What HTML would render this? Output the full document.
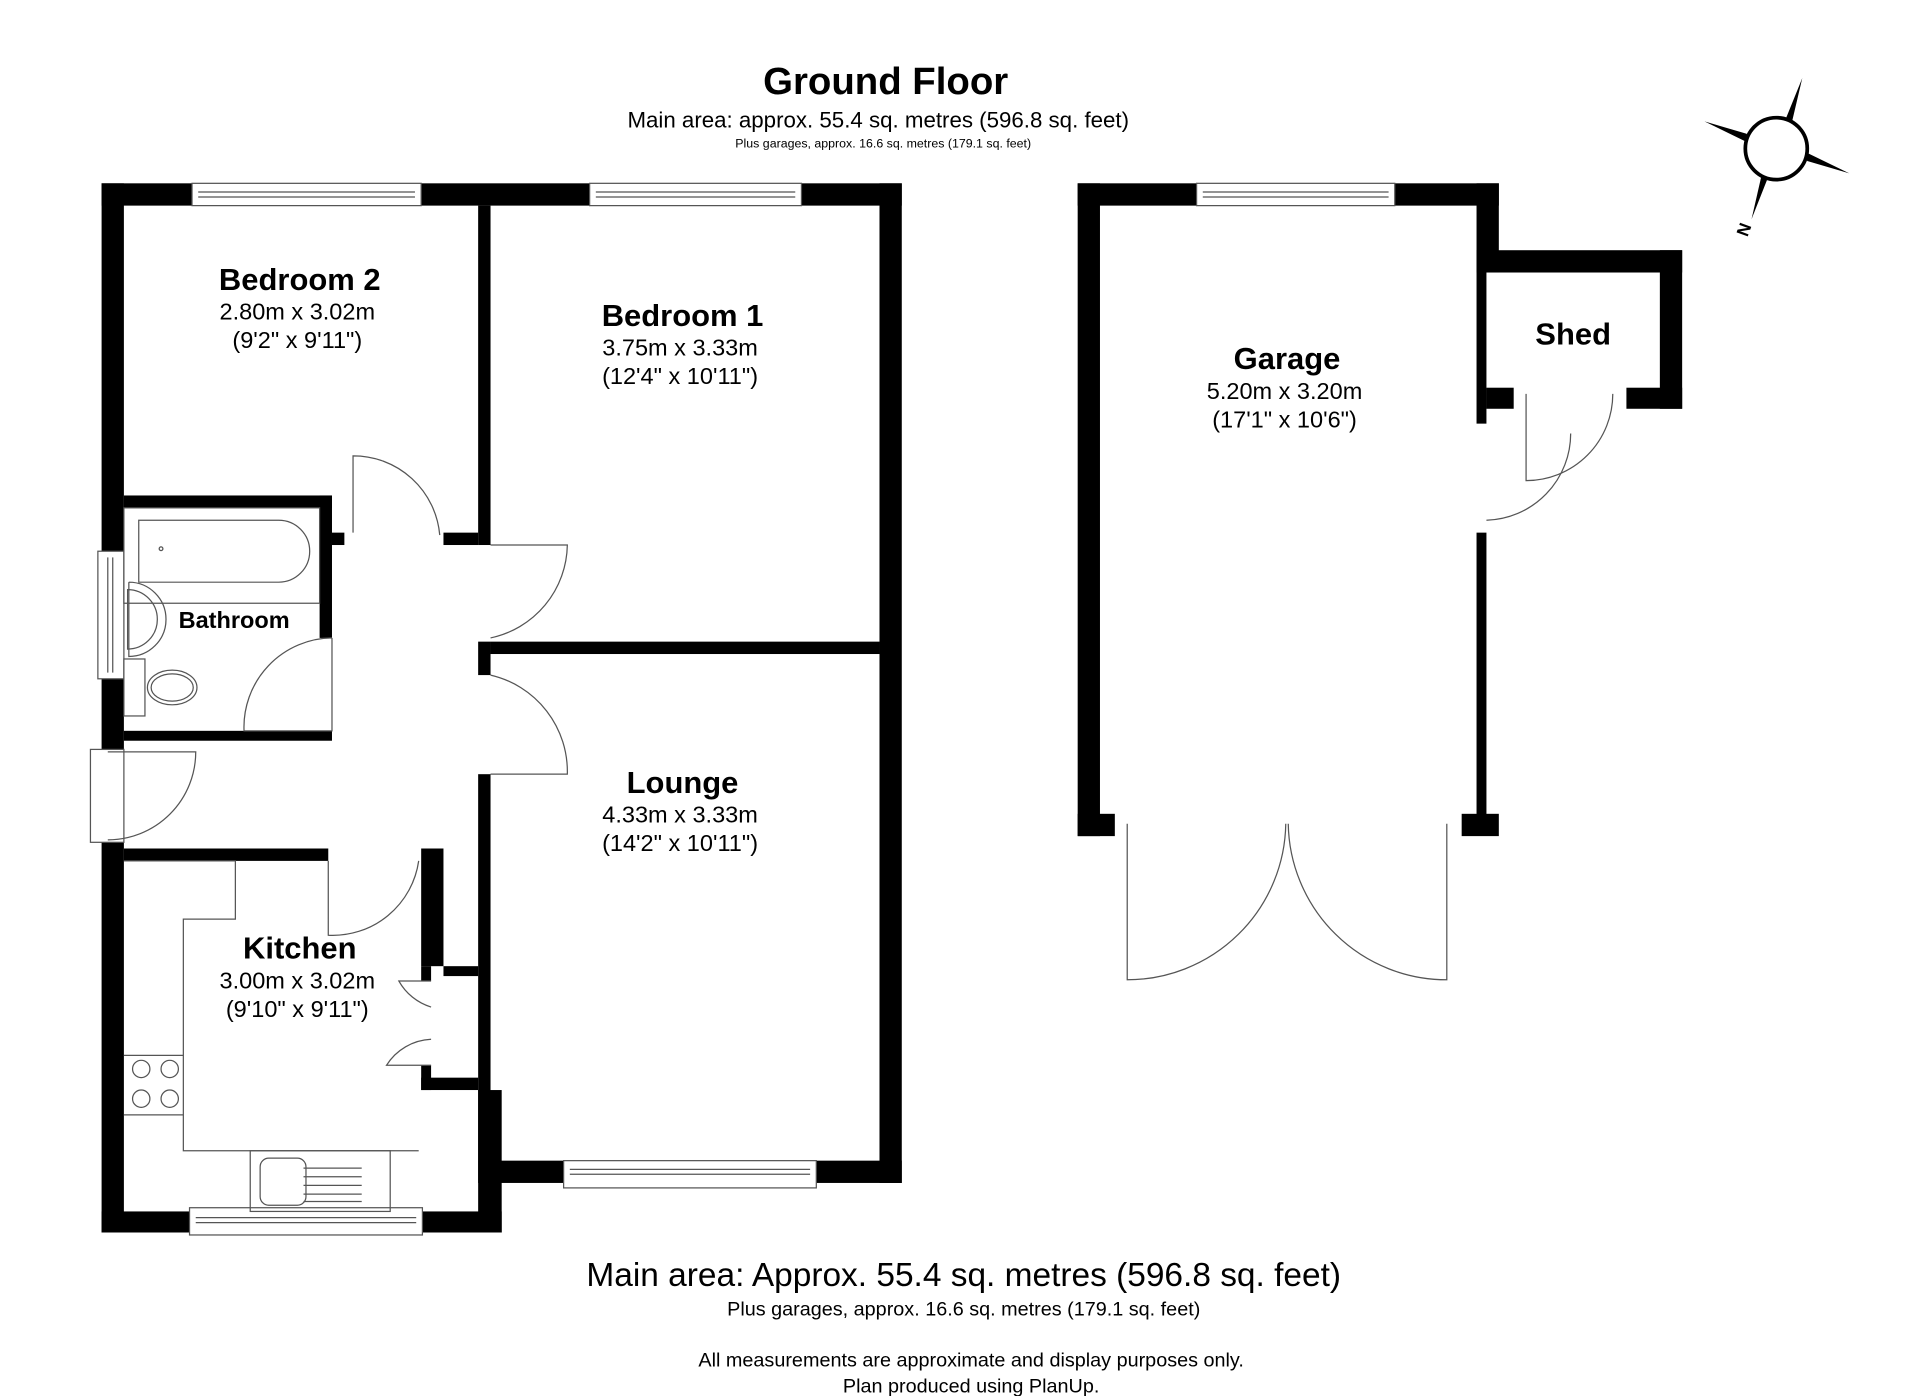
<!DOCTYPE html>
<html><head><meta charset="utf-8"><style>
html,body{margin:0;padding:0;background:#fff;}
svg{display:block;}
text{font-family:"Liberation Sans",Arial,sans-serif;fill:#000;}
</style></head><body>
<svg width="1920" height="1396" viewBox="0 0 1550 1127" xmlns="http://www.w3.org/2000/svg">
<rect width="1550" height="1127" fill="#fff"/>
<text x="715" y="76" font-size="31" font-weight="bold" text-anchor="middle">Ground Floor</text>
<text x="709" y="103" font-size="18" text-anchor="middle">Main area: approx. 55.4 sq. metres (596.8 sq. feet)</text>
<text x="713" y="119" font-size="10" text-anchor="middle">Plus garages, approx. 16.6 sq. metres (179.1 sq. feet)</text>

<g fill="#000">
<rect x="82" y="148" width="646" height="18"/>
<rect x="82" y="148" width="18" height="297"/>
<rect x="82" y="548" width="18" height="57"/>
<rect x="82" y="680" width="18" height="315"/>
<rect x="82" y="978" width="323" height="17"/>
<rect x="710" y="148" width="18" height="807"/>
<rect x="386" y="937" width="342" height="18"/>
<rect x="386" y="880" width="19" height="115"/>
<rect x="386" y="166" width="10" height="274"/>
<rect x="396" y="518" width="314" height="10"/>
<rect x="386" y="518" width="10" height="27"/>
<rect x="386" y="625" width="10" height="312"/>
<rect x="100" y="400" width="168" height="10"/>
<rect x="258" y="400" width="10" height="115"/>
<rect x="100" y="590" width="168" height="8"/>
<rect x="100" y="685" width="165" height="10"/>
<rect x="340" y="685" width="18" height="95"/>
<rect x="340" y="870" width="46" height="10"/>
<rect x="340" y="780" width="8" height="12"/>
<rect x="340" y="860" width="8" height="20"/>
<rect x="358" y="780" width="28" height="8"/>
<rect x="358" y="430" width="28" height="10"/>
<rect x="268" y="430" width="10" height="10"/>
<rect x="870" y="148" width="340" height="18"/>
<rect x="870" y="148" width="18" height="527"/>
<rect x="870" y="657" width="30" height="18"/>
<rect x="1192" y="148" width="18" height="72"/>
<rect x="1192" y="202" width="166" height="18"/>
<rect x="1340" y="202" width="18" height="128"/>
<rect x="1313" y="313" width="45" height="17"/>
<rect x="1192" y="202" width="8" height="140"/>
<rect x="1200" y="313" width="22" height="17"/>
<rect x="1192" y="430" width="8" height="230"/>
<rect x="1180" y="657" width="30" height="18"/>
</g>

<g fill="none" stroke="#555" stroke-width="1">
<rect x="155" y="148" width="185" height="18" fill="#fff"/><line x1="160" y1="155" x2="335" y2="155"/><line x1="160" y1="159" x2="335" y2="159"/>
<rect x="476" y="148" width="171" height="18" fill="#fff"/><line x1="481" y1="155" x2="642" y2="155"/><line x1="481" y1="159" x2="642" y2="159"/>
<rect x="966" y="148" width="160" height="18" fill="#fff"/><line x1="971" y1="155" x2="1121" y2="155"/><line x1="971" y1="159" x2="1121" y2="159"/>
<rect x="455" y="937" width="204" height="22" fill="#fff"/><line x1="460" y1="944" x2="654" y2="944"/><line x1="460" y1="948" x2="654" y2="948"/>
<rect x="153" y="975" width="188" height="22" fill="#fff"/><line x1="158" y1="983" x2="336" y2="983"/><line x1="158" y1="987" x2="336" y2="987"/>
<rect x="79" y="445" width="21" height="103" fill="#fff"/><line x1="87" y1="450" x2="87" y2="543"/><line x1="91" y1="450" x2="91" y2="543"/>
<rect x="73" y="605" width="27" height="75" fill="#fff"/>
<path d="M87 607 L158 607 A71 71 0 0 1 87 678"/>
<path d="M285 430 L285 368 A70 70 0 0 1 355 432"/>
<path d="M396 440 L458 440 A78 78 0 0 1 396 515"/>
<path d="M268 515 L268 590 L197 590 A72 72 0 0 1 268 515"/>
<path d="M396 545 A80 80 0 0 1 458 625 L396 625"/>
<path d="M265 695 L265 755 A70 70 0 0 0 338 695"/>
<path d="M348 792 L322 792 A45 45 0 0 0 348 813"/>
<path d="M348 839 A45 45 0 0 0 312 860 L348 860"/>
<path d="M1200 420 A70 70 0 0 0 1268 350"/>
<path d="M1232 318 L1232 388 A70 70 0 0 0 1302 318"/>
<path d="M910 665 L910 791 A128 128 0 0 0 1038 665"/>
<path d="M1168 665 L1168 791 A128 128 0 0 1 1040 665"/>
<path d="M112 420 L225 420 A24 24 0 0 1 225 470 L112 470 Z"/>
<rect x="100" y="410" width="158" height="77"/>
<circle cx="130" cy="443" r="1.5"/>
<path d="M104 470 A30 30 0 0 1 104 530 L104 470"/>
<path d="M103 476 A24 24 0 0 1 103 524 Z"/>
<rect x="100" y="532" width="17" height="46"/>
<ellipse cx="139" cy="555" rx="20" ry="14"/>
<ellipse cx="139" cy="555" rx="17" ry="11"/>
<path d="M100 695 L190 695 L190 742 L148 742 L148 929 L338 929"/>
<line x1="100" y1="852" x2="148" y2="852"/>
<line x1="100" y1="900" x2="148" y2="900"/>
<circle cx="114" cy="863" r="7"/><circle cx="137" cy="863" r="7"/>
<circle cx="114" cy="887" r="7"/><circle cx="137" cy="887" r="7"/>
<rect x="202" y="929" width="113" height="49"/>
<rect x="210" y="935" width="37" height="38" rx="7"/>
<line x1="245" y1="943" x2="292" y2="943"/><line x1="245" y1="950" x2="292" y2="950"/><line x1="245" y1="957" x2="292" y2="957"/><line x1="245" y1="964" x2="292" y2="964"/><line x1="245" y1="970" x2="292" y2="970"/>
</g>

<g>
<polygon points="1376,98 1410,108 1413,116" fill="#000"/>
<polygon points="1455,63 1447,97 1440,100" fill="#000"/>
<polygon points="1493,140 1459,130 1456,122" fill="#000"/>
<polygon points="1414,177 1422,142 1429,139" fill="#000"/>
<circle cx="1434" cy="120" r="25" fill="#fff" stroke="#000" stroke-width="3"/>
<text x="1406" y="195" font-size="14" font-weight="bold" transform="rotate(-70 1406 190)">N</text>
</g>

<text x="242" y="234" font-size="25" font-weight="bold" text-anchor="middle">Bedroom 2</text>
<text x="240" y="258" font-size="19" text-anchor="middle">2.80m x 3.02m</text>
<text x="240" y="281" font-size="19" text-anchor="middle">(9'2" x 9'11")</text>
<text x="551" y="263" font-size="25" font-weight="bold" text-anchor="middle">Bedroom 1</text>
<text x="549" y="287" font-size="19" text-anchor="middle">3.75m x 3.33m</text>
<text x="549" y="310" font-size="19" text-anchor="middle">(12'4" x 10'11")</text>
<text x="189" y="507" font-size="19" font-weight="bold" text-anchor="middle">Bathroom</text>
<text x="551" y="640" font-size="25" font-weight="bold" text-anchor="middle">Lounge</text>
<text x="549" y="664" font-size="19" text-anchor="middle">4.33m x 3.33m</text>
<text x="549" y="687" font-size="19" text-anchor="middle">(14'2" x 10'11")</text>
<text x="242" y="774" font-size="25" font-weight="bold" text-anchor="middle">Kitchen</text>
<text x="240" y="798" font-size="19" text-anchor="middle">3.00m x 3.02m</text>
<text x="240" y="821" font-size="19" text-anchor="middle">(9'10" x 9'11")</text>
<text x="1039" y="298" font-size="25" font-weight="bold" text-anchor="middle">Garage</text>
<text x="1037" y="322" font-size="19" text-anchor="middle">5.20m x 3.20m</text>
<text x="1037" y="345" font-size="19" text-anchor="middle">(17'1" x 10'6")</text>
<text x="1270" y="278" font-size="25" font-weight="bold" text-anchor="middle">Shed</text>

<text x="778" y="1038" font-size="27" text-anchor="middle">Main area: Approx. 55.4 sq. metres (596.8 sq. feet)</text>
<text x="778" y="1062" font-size="16" text-anchor="middle">Plus garages, approx. 16.6 sq. metres (179.1 sq. feet)</text>
<text x="784" y="1103" font-size="16" text-anchor="middle">All measurements are approximate and display purposes only.</text>
<text x="784" y="1124" font-size="16" text-anchor="middle">Plan produced using PlanUp.</text>
</svg>
</body></html>
